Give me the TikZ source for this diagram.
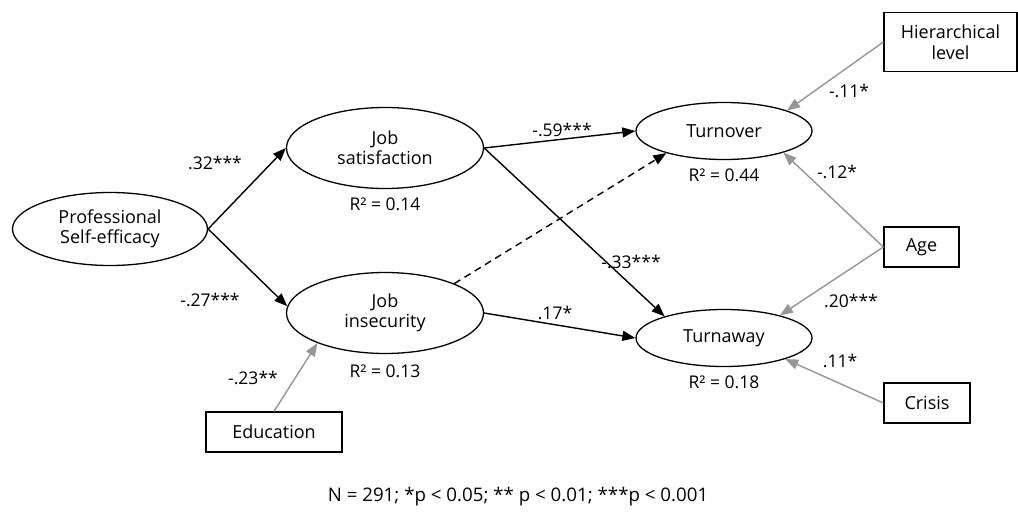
\documentclass[tikz,border=0pt]{standalone}
\usepackage{fontspec}
\setmainfont{Open Sans}
\usetikzlibrary{arrows.meta,shapes.geometric}
\definecolor{lgray}{RGB}{150,150,150}
\tikzset{
  lat/.style={ellipse,draw=black,line width=1.3pt,align=center,inner sep=0pt,font=\fontsize{18}{20}\selectfont},
  obs/.style={rectangle,draw=black,line width=1.3pt,align=center,inner sep=0pt,font=\fontsize{18}{21}\selectfont},
  lbl/.style={font=\fontsize{17.5}{20}\selectfont,inner sep=0pt},
  blk/.style={draw=black,line width=1.4pt,-{Triangle[length=13pt,width=10pt]}},
  gry/.style={draw=lgray,line width=1.4pt,-{Triangle[length=13pt,width=10pt]}},
}
\begin{document}
\begin{tikzpicture}[x=1pt,y=-1pt]
\useasboundingbox[fill=white] (0,0) rectangle (1018,513);
% latent nodes
\node[lat,minimum width=195pt,minimum height=73pt] (pse) at (110,229) {Professional\\Self-efficacy};
\node[lat,minimum width=197pt,minimum height=81pt] (js) at (385,148) {Job\\satisfaction};
\node[lat,minimum width=197pt,minimum height=81pt] (ji) at (385,313) {Job\\insecurity};
\node[lat,minimum width=176pt,minimum height=57pt] (tov) at (724,131) {Turnover};
\node[lat,minimum width=176pt,minimum height=57pt] (tw) at (724,338) {Turnaway};
% observed boxes
\node[obs,minimum width=133pt,minimum height=59pt] (hier) at (950.5,42) {Hierarchical\\level};
\node[obs,minimum width=75pt,minimum height=40pt] (age) at (921.5,247) {Age};
\node[obs,minimum width=86pt,minimum height=40pt] (crisis) at (927,403) {Crisis};
\node[obs,minimum width=136pt,minimum height=40pt] (edu) at (274,432) {Education};
% R2 labels
\node[lbl] (r1) at (385,204) {R² = 0.14};
\node[lbl] (r2) at (385,371) {R² = 0.13};
\node[lbl] (r3) at (724,175) {R² = 0.44};
\node[lbl] (r4) at (724,382) {R² = 0.18};
% black paths
\draw[blk] (pse.east) -- (js.west);
\draw[blk] (pse.east) -- (ji.176);
\draw[blk] (js.east) -- (tov.west);
\draw[blk] (js.east) -- (tw.160);
\draw[blk,dash pattern=on 7pt off 5pt] (ji.23) -- (tov.201);
\draw[blk] (ji.east) -- (tw.west);
% gray paths
\draw[gry] (hier.west) -- (tov.18);
\draw[gry] (age.west) -- (tov.-20);
\draw[gry] (age.west) -- (tw.22);
\draw[gry] (crisis.west) -- (tw.-19);
\draw[gry] (edu.north) -- (ji.204);
% coefficient labels
\node[lbl] (c1) at (215,163) {.32***};
\node[lbl] (c2) at (210,300) {-.27***};
\node[lbl] (c3) at (562,130) {-.59***};
\node[lbl] (c4) at (631,262) {-.33***};
\node[lbl] (c5) at (555,313) {.17*};
\node[lbl] (c6) at (849,91) {-.11*};
\node[lbl] (c7) at (837,172) {-.12*};
\node[lbl] (c8) at (851,301) {.20***};
\node[lbl] (c9) at (840,361) {.11*};
\node[lbl] (c10) at (253,378) {-.23**};
% footnote
\node[font=\fontsize{18.7}{21}\selectfont,inner sep=0pt] (note) at (518,497) {N = 291; *p < 0.05; ** p < 0.01; ***p < 0.001};
\end{tikzpicture}
\end{document}
